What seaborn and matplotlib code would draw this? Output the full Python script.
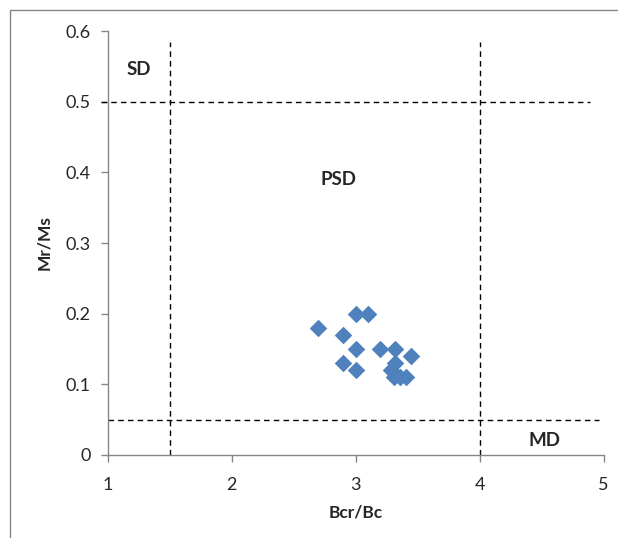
import matplotlib
matplotlib.use("Agg")
import matplotlib.pyplot as plt
from matplotlib.patches import Rectangle
import pandas as pd
import seaborn as sns

# Dados (Bcr/Bc vs Mr/Ms)
bcr_bc = [2.70, 3.00, 3.10, 2.90, 3.00, 3.20, 3.32, 3.45, 2.90, 3.00, 3.32, 3.29, 3.31, 3.36, 3.41]
mr_ms = [0.18, 0.20, 0.20, 0.17, 0.15, 0.15, 0.15, 0.14, 0.13, 0.12, 0.13, 0.12, 0.11, 0.11, 0.11]

# Limites de domínio (Day plot)
limites_x = [1.5, 4.0]
limites_y = [0.5, 0.05]
rotulos = ["SD", "PSD", "MD"]
pos_rotulos = [(1.25, 0.545), (2.86, 0.39), (4.52, 0.02)]
x_ticks = [1, 2, 3, 4, 5]
y_ticks = [0, 0.1, 0.2, 0.3, 0.4, 0.5, 0.6]

df = pd.DataFrame({"Bcr/Bc": bcr_bc, "Mr/Ms": mr_ms})

sns.set_style("white")
plt.rcParams["font.family"] = ["Lato", "DejaVu Sans"]

fig = plt.figure(figsize=(6.18, 5.38), dpi=100)
ax = fig.add_axes([0.1740, 0.1543, 0.8026, 0.788])

sns.scatterplot(x="Bcr/Bc", y="Mr/Ms", data=df, marker="D", s=80,
                color="#4F81BD", edgecolor="#4F81BD", linewidth=0, ax=ax, zorder=3)

# Linhas tracejadas dos domínios
ax.plot([limites_x[0], limites_x[0]], [0, 0.585], ls=(0, (4, 3)), color="black", lw=1, clip_on=False)
ax.plot([limites_x[1], limites_x[1]], [0, 0.585], ls=(0, (4, 3)), color="black", lw=1, clip_on=False)
ax.plot([0.95, 4.89], [limites_y[0], limites_y[0]], ls=(0, (4, 3)), color="black", lw=1, clip_on=False)
ax.plot([1, 4.96], [limites_y[1], limites_y[1]], ls=(0, (4, 3)), color="black", lw=1, clip_on=False)

for txt, (xx, yy) in zip(rotulos, pos_rotulos):
    ax.text(xx, yy, txt, fontsize=13.5, fontweight="bold", ha="center", va="center")

ax.set_xlim(1, 5)
ax.set_ylim(0, 0.6)
ax.set_xticks(x_ticks)
ax.set_yticks(y_ticks)
ax.set_xticklabels([str(t) for t in x_ticks])
ax.set_yticklabels(["0"] + ["%.1f" % t for t in y_ticks[1:]])
ax.tick_params(axis="both", labelsize=13, length=5, width=1, color="#868686", direction="out",
               bottom=True, left=True)
ax.tick_params(axis="x", pad=11)
ax.tick_params(axis="y", pad=7)
ax.set_xlabel("Bcr/Bc", fontsize=12.5, fontweight="bold", labelpad=8)
ax.set_ylabel("Mr/Ms", fontsize=12.5, fontweight="bold", labelpad=10)

for lado in ["top", "right"]:
    ax.spines[lado].set_visible(False)
for lado in ["left", "bottom"]:
    ax.spines[lado].set_color("#868686")
    ax.spines[lado].set_linewidth(1)

# Moldura externa (só aparece à esquerda e no topo)
fig.patches.append(Rectangle((10 / 618, -0.1), 1.2, 1.1 - 10 / 538, transform=fig.transFigure,
                             fill=False, edgecolor="#868686", lw=1))

fig.savefig("out.png", dpi=100)
